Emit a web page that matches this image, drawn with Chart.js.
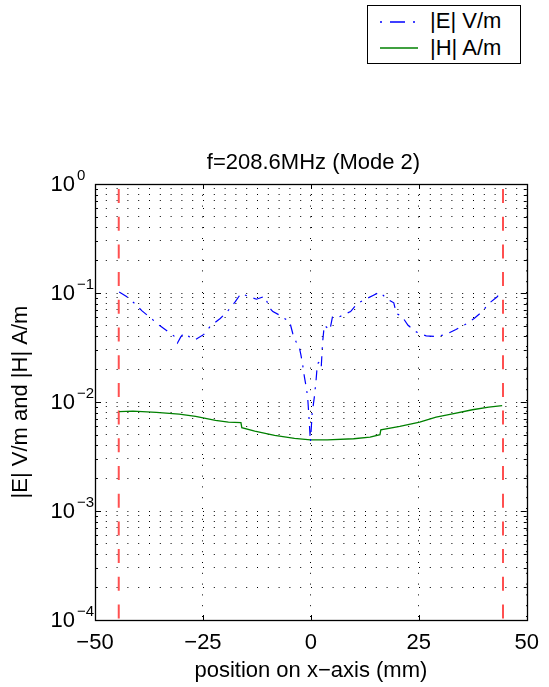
<!DOCTYPE html>
<html>
<head>
<meta charset="utf-8">
<title>f=208.6MHz (Mode 2)</title>
<script src="https://cdn.jsdelivr.net/npm/chart.js@4.4.0/dist/chart.umd.min.js"></script>
<style>
  body { margin: 0; background: #fff; font-family: "Liberation Sans", Arial, sans-serif; color: #000; }
  #wrap { position: relative; width: 549px; height: 687px; }
  #plotTitle { position: absolute; left: 95px; width: 437px; top: 151px; text-align: center; font-size: 22px; line-height: 22px; }
  #legendBox { position: absolute; left: 367px; top: 5px; width: 152px; height: 57px; border: 1px solid #000; background: #fff; }
  #legendBox span { position: absolute; left: 62px; font-size: 22px; line-height: 22px; white-space: nowrap; }
  #legendBox svg { position: absolute; left: 12px; }
</style>
</head>
<body>
<div id="wrap">
  <canvas id="fieldChart"></canvas>
  <div id="plotTitle">f=208.6MHz (Mode 2)</div>
  <div id="legendBox">
    <svg width="38" height="4" style="top:14px"><line x1="0" y1="2" x2="38" y2="2" stroke="#0000ff" stroke-width="1.5" stroke-dasharray="2,8,15,8"/></svg>
    <span style="top:4px">|E| V/m</span>
    <svg width="38" height="4" style="top:40px"><line x1="0" y1="2" x2="38" y2="2" stroke="#008000" stroke-width="1.5"/></svg>
    <span style="top:31px">|H| A/m</span>
  </div>
</div>
<script>
// |E| along the x-axis (mm, V/m)
const xE = [-44.4, -42.7, -40.8, -39.1, -37.4, -35.1, -33.0, -31.6, -30.9, -30.1, -29.4, -28.2, -26.8, -24.8,
  -23.3, -21.0, -19.1, -17.5, -16.2, -14.5, -12.6, -10.7, -9.5, -8.8, -7.2, -4.9, -4.2, -3.4, -2.7, -2.3,
  -1.9, -1.5, -1.1, -0.75, -0.5, -0.1, 0.3, 0.8, 1.2, 1.5, 2.0, 2.4, 2.7, 3.1, 4.4, 5.0, 6.5, 9.2, 10.7,
  12.2, 14.5, 16.0, 17.5, 19.2, 19.8, 21.0, 22.5, 24.4, 26.7, 29.0, 31.3, 33.6, 35.8, 37.8, 39.7, 41.2, 43.1, 44.4];
const yE = [0.102, 0.093, 0.080, 0.0686, 0.0603, 0.0506, 0.0440, 0.040, 0.0348, 0.0398, 0.0427, 0.0398, 0.0372, 0.0417,
  0.0495, 0.0583, 0.0695, 0.0832, 0.0989, 0.0933, 0.0877, 0.0933, 0.0724, 0.0676, 0.0625, 0.0543, 0.0425, 0.0355, 0.0320, 0.0269,
  0.0219, 0.0170, 0.0138, 0.0111, 0.0079, 0.0043, 0.0079, 0.0111, 0.0158, 0.0224, 0.0234, 0.0209, 0.0347, 0.0506, 0.0457, 0.0603, 0.0603, 0.0676, 0.080,
  0.0859, 0.0955, 0.102, 0.0891, 0.0813, 0.0646, 0.0617, 0.0506, 0.0440, 0.0404, 0.0398, 0.0417, 0.0462, 0.0516, 0.0583, 0.0676, 0.080, 0.092, 0.106];

// |H| along the x-axis (mm, A/m)
const xH = [-44.4, -41.2, -35.8, -30.5, -26.7, -22.1, -19.1, -16.2, -16.0, -13.0, -8.4, -3.8, -0.1, 3.8,
  9.9, 13.7, 16.0, 16.2, 20.6, 25.2, 29.0, 32.8, 37.4, 41.2, 44.3];
const yH = [0.00815, 0.00824, 0.00802, 0.00774, 0.00738, 0.00678, 0.00653, 0.00646, 0.00581, 0.00541, 0.00493, 0.00463, 0.00450, 0.00450,
  0.00460, 0.00476, 0.00501, 0.00556, 0.00597, 0.00653, 0.00726, 0.00780, 0.00849, 0.00897, 0.00925];

// cavity walls
const wallX = [-44.5, 44.5];
const yRange = [1e-4, 1];

const xTicks = [-50, -25, 0, 25, 50];
const decades = [0, -1, -2, -3, -4];

const FONT = "'Liberation Sans', Arial, sans-serif";
const pts = (xs, ys) => xs.map((x, i) => ({ x: x, y: ys[i] }));

// 1..9 x 10^k grid values for the log axis
const yGrid = [];
for (let k = -4; k < 0; k++) {
  for (let m = 1; m <= 9; m++) yGrid.push(+(m * Math.pow(10, k)).toPrecision(3));
}
yGrid.push(1);

const isDecade = v => Math.abs(Math.log10(v) - Math.round(Math.log10(v))) < 1e-6;

// axes box, inward tick marks and 10^k labels
const frame = {
  id: 'frame',
  afterDraw(chart) {
    const { ctx, chartArea: a, scales: { x, y } } = chart;
    ctx.save();
    ctx.strokeStyle = '#000';
    ctx.lineWidth = 1;
    ctx.beginPath();
    xTicks.forEach(v => {
      const px = Math.round(x.getPixelForValue(v)) + 0.5;
      ctx.moveTo(px, a.bottom); ctx.lineTo(px, a.bottom - 5);
      ctx.moveTo(px, a.top); ctx.lineTo(px, a.top + 5);
    });
    y.ticks.forEach(t => {
      const py = Math.round(y.getPixelForValue(t.value)) + 0.5;
      const len = isDecade(t.value) ? 6 : 3;
      ctx.moveTo(a.left, py); ctx.lineTo(a.left + len, py);
      ctx.moveTo(a.right, py); ctx.lineTo(a.right - len, py);
    });
    ctx.stroke();
    ctx.lineWidth = 1.3;
    ctx.strokeRect(Math.round(a.left) + 0.5, Math.round(a.top) + 0.5,
      Math.round(a.right - a.left), Math.round(a.bottom - a.top));

    ctx.fillStyle = '#000';
    ctx.textBaseline = 'alphabetic';
    decades.forEach(k => {
      const py = y.getPixelForValue(Math.pow(10, k));
      ctx.font = '22px ' + FONT;
      ctx.textAlign = 'right';
      ctx.fillText('10', 75, py + 7);
      ctx.font = '15px ' + FONT;
      ctx.textAlign = 'left';
      ctx.fillText(k === 0 ? '0' : '\u2212' + (-k), 77, py - 4);
    });
    ctx.restore();
  }
};

const dotted = { color: '#000', lineWidth: 1, drawTicks: false };

new Chart(document.getElementById('fieldChart'), {
  type: 'line',
  data: {
    datasets: [
      { label: '|E| V/m', data: pts(xE, yE), borderColor: '#0000ff', borderWidth: 1.2,
        borderDash: [10, 7, 2, 7], pointRadius: 0, tension: 0 },
      { label: '|H| A/m', data: pts(xH, yH), borderColor: '#008000', borderWidth: 1.3,
        pointRadius: 0, tension: 0 },
      { label: 'wall', data: pts([wallX[0], wallX[0]], [yRange[1], yRange[0]]), borderColor: '#ff5050',
        borderWidth: 2, borderDash: [14, 13.7], borderDashOffset: 22.7, pointRadius: 0 },
      { label: 'wall', data: pts([wallX[1], wallX[1]], [yRange[1], yRange[0]]), borderColor: '#ff5050',
        borderWidth: 2, borderDash: [14, 13.7], borderDashOffset: 22.7, pointRadius: 0 }
    ]
  },
  options: {
    responsive: true,
    maintainAspectRatio: false,
    animation: false,
    events: [],
    layout: { padding: { top: 184, right: 17, left: 0, bottom: 0 } },
    plugins: { legend: { display: false }, title: { display: false }, tooltip: { enabled: false } },
    scales: {
      x: {
        type: 'linear', min: -50, max: 50,
        ticks: { stepSize: 25, color: '#000', font: { family: FONT, size: 22 }, padding: 10,
          callback: v => String(v).replace('-', '\u2212') },
        grid: dotted,
        border: { display: false, dash: [1, 9.8] },
        title: { display: true, text: 'position on x\u2212axis (mm)', color: '#000',
          font: { family: FONT, size: 22 }, padding: { top: 0, bottom: 3 } },
        afterFit: s => { s.height = 67; }
      },
      y: {
        type: 'logarithmic', min: yRange[0], max: yRange[1],
        afterBuildTicks: s => { s.ticks = yGrid.map(v => ({ value: v })); },
        ticks: { display: false, autoSkip: false },
        grid: dotted,
        border: { display: false, dash: [1, 9.8] },
        title: { display: true, text: '|E| V/m and |H| A/m', color: '#000',
          font: { family: FONT, size: 22 }, padding: { top: 8, bottom: 0 } },
        afterFit: s => { s.width = 95; }
      }
    }
  },
  plugins: [frame]
});
</script>
</body>
</html>
